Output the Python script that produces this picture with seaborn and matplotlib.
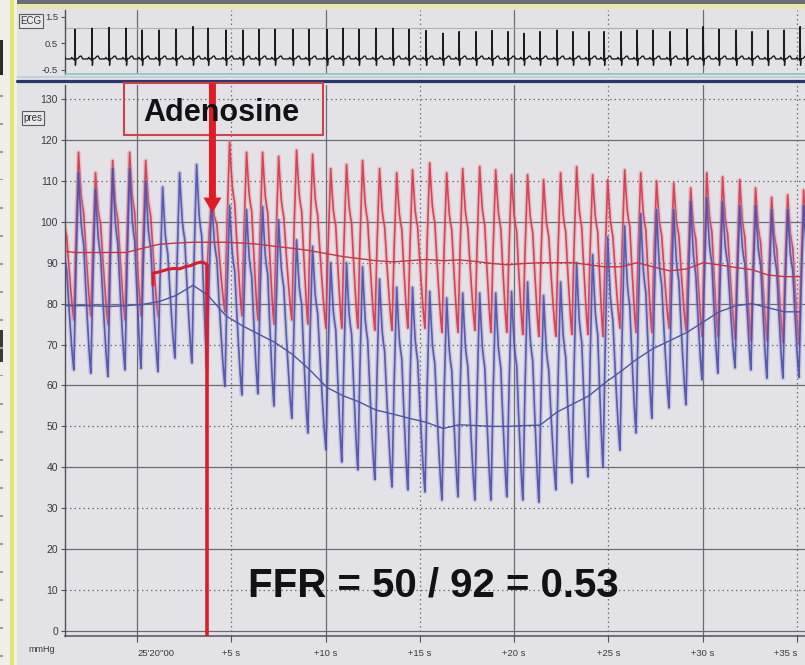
import numpy as np
import pandas as pd
import matplotlib
matplotlib.use("Agg")
import matplotlib.pyplot as plt
import seaborn as sns
from matplotlib.patches import Rectangle
from matplotlib.lines import Line2D

nan = np.nan

# ---------------------------------------------------------------- data
# R-wave times (s, relative to 25'20"00)
beat_t = [-4.19, -3.29, -2.39, -1.48, -0.58, 0.27, 1.17, 2.07, 2.97, 3.77,
          4.72, 5.62, 6.47, 7.32, 8.27, 9.12, 10.08, 10.92, 11.77, 12.67,
          13.58, 14.42, 15.33, 16.23, 17.08, 17.98, 18.83, 19.67, 20.52, 21.37,
          22.27, 23.12, 23.97, 24.77, 25.67, 26.52, 27.36, 28.27, 29.17, 30.02,
          30.86, 31.77, 32.61, 33.46, 34.31, 35.16]

# ECG R-peak level (mV)
ecg_r = [1.03, 1.03, 1.07, 1.10, 1.07, 1.00, 1.00, 1.03, 1.13, 1.07,
         1.00, 1.00, 1.03, 1.03, 1.03, 1.03, 1.03, 1.07, 1.03, 1.07,
         1.07, 1.03, 0.98, 0.88, 0.94, 0.94, 0.98, 0.94, 0.88, 0.94,
         1.00, 0.94, 0.94, 0.94, 0.94, 1.00, 1.00, 0.94, 1.03, 1.13,
         1.03, 1.00, 0.94, 0.98, 1.00, 1.13]

# Aortic pressure Pa per beat (mmHg); nan = damped during injection
pa_sys = [108, 117, 112, 115, 117, 115, nan, nan, nan, 106,
          119.5, 117, 117, 116, 117.5, 116.5, 113, 114, 115, 113,
          112, 112.7, 114.4, 112, 113, 113.5, 112.7, 111.5, 111.5, 110.3,
          112, 113.5, 111.5, 110.3, 112.7, 112, 110, 109.5, 108.3, 112,
          111, 110.3, 108.3, 106, 106.6, 107.8]
pa_dia = [76, 76, 77, 75, 76, 77, nan, nan, nan, 88,
          78, 77, 76, 75, 76, 75, 74, 74, 74, 73.5,
          73.5, 74, 74, 73, 73, 73.5, 73, 73, 72.5, 72,
          72, 72.5, 72.5, 72, 74, 73, 73, 74, 73.5, 72,
          72, 71.5, 71, 71, 70.5, 70]
pa_mean = [93, 92.5, 92.5, 92.5, 92.5, 93.5, 94.5, 94.8, 95, 95,
           95, 94.8, 94.5, 94, 93.5, 93, 92.2, 91.5, 91, 90.5,
           90.2, 90.5, 90.8, 90.5, 90.7, 90.3, 89.8, 89.5, 89.8, 90,
           90, 90, 89.5, 89, 89, 90, 89, 88, 88.5, 90,
           89.5, 88.8, 88.3, 87, 86.6, 86.6]

# Distal coronary pressure Pd per beat (mmHg)
pd_sys = [102, 112, 108, 113, 113, 110, 108.5, 112, 114, 106,
          104, 103, 103.7, 100.5, 95.6, 94, 90, 90, 89, 86,
          84, 84, 83, 81.4, 82.6, 82.6, 82.6, 83, 85.3, 82,
          85.3, 90, 92, 96.3, 99, 102, 103, 103, 105, 106,
          105, 104, 104, 103, 103, 104]
pd_dia = [64, 63.8, 63, 62.2, 63.8, 64.2, 63.4, 66.7, 65.5, 64,
          59.8, 57.7, 58, 55, 52, 48.4, 44.3, 41.3, 39.4, 37,
          35.2, 34.5, 34, 32, 32.8, 32, 32, 32.8, 32, 31.5,
          34.5, 36.2, 37.7, 40, 44.2, 48.4, 52, 54.5, 55.3, 61.4,
          63, 64.3, 63.8, 61.8, 61.8, 62]
pd_mean = [79.5, 79.5, 79.5, 79.3, 79.5, 79.8, 80.5, 82, 84.5, 82,
           77, 74.5, 72.5, 70.5, 67.5, 64, 59.5, 57.5, 56, 54,
           53, 52, 51, 49.5, 50.4, 50.2, 50, 50, 50.2, 50.3,
           53.5, 55.5, 57.5, 60.5, 63.5, 66.5, 69, 71, 73, 75.5,
           78, 79.5, 80, 79, 78, 78]

# damped Pa during the adenosine injection
pa_damped_t = [0.85, 0.85, 1.05, 1.35, 1.65, 1.95, 2.25, 2.55, 2.85, 3.15, 3.45, 3.71]
pa_damped_v = [84.5, 87.5, 87.6, 88.0, 88.4, 88.6, 88.5, 89.0, 89.3, 89.9, 90.2, 89.6]

adenosine_t = 3.71
arrow_t = 4.0
ffr_pd, ffr_pa, ffr_value = 50, 92, 0.53

x_ticks = [0, 5, 10, 15, 20, 25, 30, 35]
x_labels = ["25'20\"00", "+5 s", "+10 s", "+15 s", "+20 s", "+25 s", "+30 s", "+35 s"]
p_ticks = list(range(0, 131, 10))
ecg_ticks = [-0.5, 0.5, 1.5]


# ---------------------------------------------------------------- traces
RISE = [(-0.06, 0.0), (0.05, 0.5), (0.19, 1.0), (0.26, 0.86),
        (0.33, 0.74), (0.40, 0.68), (0.46, 0.64)]
DECAY = [0.15, 0.3, 0.5, 0.7, 0.85]


def pulse_frame(sys_v, dia_v):
    rows, seg, n = [], 0, len(beat_t)
    for i in range(n):
        if np.isnan(sys_v[i]):
            seg += 1
            continue
        t0 = beat_t[i]
        t1 = beat_t[i + 1] if i + 1 < n else t0 + (beat_t[i] - beat_t[i - 1])
        d0 = dia_v[i]
        d1 = dia_v[i + 1] if i + 1 < n and not np.isnan(dia_v[i + 1]) else d0
        amp = sys_v[i] - d0
        for ph, f in RISE:
            rows.append((t0 + ph, d0 + f * amp, seg))
        ta, va = t0 + RISE[-1][0], d0 + RISE[-1][1] * amp
        tb = t1 + RISE[0][0]
        for s in DECAY:
            rows.append((ta + s * (tb - ta), d1 + (va - d1) * (1 - s) ** 1.2, seg))
        if i + 1 >= n or np.isnan(sys_v[i + 1]):
            rows.append((tb, d1, seg))
    return pd.DataFrame(rows, columns=["t", "p", "seg"])


ECG_BASE = -0.09
ECG_SHAPE = [(-0.22, 0.0), (-0.17, 0.06), (-0.12, 0.0), (-0.04, 0.0), (-0.02, -0.06),
             (0.0, None), (0.025, -0.24), (0.05, 0.0), (0.16, 0.02), (0.26, 0.10),
             (0.33, 0.11), (0.41, 0.0)]


def ecg_frame():
    rows = []
    for t0, r in zip(beat_t, ecg_r):
        for ph, v in ECG_SHAPE:
            rows.append((t0 + ph, r if v is None else ECG_BASE + v))
    return pd.DataFrame(rows, columns=["t", "v"])


pa_df = pulse_frame(pa_sys, pa_dia)
pd_df = pulse_frame(pd_sys, pd_dia)
ecg_df = ecg_frame()
mean_df = pd.DataFrame({"t": beat_t, "pa": pa_mean, "pd": pd_mean})
damp_df = pd.DataFrame({"t": pa_damped_t, "p": pa_damped_v})

# ---------------------------------------------------------------- figure
sns.set_theme(style="white")
plt.rcParams["font.family"] = ["Liberation Sans", "DejaVu Sans"]

W, H = 805, 665
PANEL = "#e3e3e7"
fig = plt.figure(figsize=(W / 100, H / 100), dpi=100)
fig.patch.set_facecolor(PANEL)


def fig_rect(x0, y0, x1, y1, color, z=-5):
    fig.add_artist(Rectangle((x0 / W, 1 - y1 / H), (x1 - x0) / W, (y1 - y0) / H,
                             transform=fig.transFigure, facecolor=color,
                             edgecolor="none", zorder=z))


def fig_hline(x0, x1, y, color, lw, z=-4):
    fig.add_artist(Line2D([x0 / W, x1 / W], [1 - y / H, 1 - y / H],
                          transform=fig.transFigure, color=color, lw=lw, zorder=z))


# frame of the monitor screen
fig_rect(0, 0, W, 3.5, "#6c6c76")
fig_rect(17, 3.5, W, 8.5, "#e7e7ac")
fig_rect(0, 0, 10, H, "#efefe9")
fig_rect(10, 0, 14, H, "#e3e37a")
fig_rect(14, 0, 17, H, "#f3f3d6")
fig_rect(0, 40, 3, 75, "#2a2a2a")
fig_rect(0, 330, 3, 362, "#3a3a3a")
for yy in range(95, 660, 28):
    fig_rect(0, yy, 3, yy + 1.5, "#9a9a9a")
fig_hline(17, W, 77, "#b9cde2", 1.2)
fig_hline(17, W, 81, "#26386e", 2.3)

ax_ecg = fig.add_axes([65 / W, 1 - 74 / H, 740 / W, 64 / H])
ax = fig.add_axes([65 / W, 1 - 636 / H, 740 / W, 551 / H])

XLIM = (-3.818, 35.42)
PLIM = (-1.222, 133.43)
ELIM = (-0.658, 1.757)

GRID = "#6b6b72"
DOT = (0, (1.2, 2.4))

for a in (ax, ax_ecg):
    a.set_facecolor(PANEL)
    a.set_xlim(*XLIM)
    for s in x_ticks:
        if s % 10 == 0:
            a.axvline(s, color=GRID, lw=0.9, zorder=0.5)
        else:
            a.axvline(s, color=GRID, lw=0.9, ls=DOT, zorder=0.5)
    for side in ("top", "right"):
        a.spines[side].set_visible(False)
    a.spines["left"].set_color("#505058")
    a.spines["left"].set_linewidth(1.0)

for v in p_ticks:
    if v % 20 == 0:
        ax.axhline(v, color=GRID, lw=0.9, zorder=0.5)
    else:
        ax.axhline(v, color=GRID, lw=0.9, ls=DOT, zorder=0.5)
ax.set_ylim(*PLIM)
ax.spines["bottom"].set_color("#505058")
ax.spines["bottom"].set_linewidth(1.1)

# pressure traces: soft halo under a thin core line
kw = dict(x="t", y="p", units="seg", estimator=None, sort=False, legend=False, ax=ax)
sns.lineplot(data=pa_df, color="#ee8a96", lw=3.2, alpha=0.38, zorder=2, **kw)
sns.lineplot(data=pa_df, color="#d23448", lw=1.2, alpha=0.88, zorder=2.2, **kw)
sns.lineplot(data=pd_df, color="#9494d4", lw=3.2, alpha=0.38, zorder=2.4, **kw)
sns.lineplot(data=pd_df, color="#4848a6", lw=1.2, alpha=0.85, zorder=2.6, **kw)

# beat-averaged means
sns.lineplot(data=mean_df, x="t", y="pa", estimator=None, sort=False, ax=ax,
             color="#c23646", lw=1.0, zorder=3)
sns.lineplot(data=mean_df, x="t", y="pd", estimator=None, sort=False, ax=ax,
             color="#4a56a0", lw=1.0, zorder=3)

# damped Pa and the adenosine marker
sns.lineplot(data=damp_df, x="t", y="p", estimator=None, sort=False, ax=ax,
             color="#d81e2c", lw=2.2, zorder=4)
ax.vlines(adenosine_t, PLIM[0], pa_damped_v[-1], color="#d81e2c", lw=2.6, zorder=4)
ax.annotate("", xy=(arrow_t, 101.5), xytext=(arrow_t, 134.6),
            arrowprops=dict(arrowstyle="simple,head_length=1.1,head_width=1.3,tail_width=0.5",
                            mutation_scale=10, color="#e01b24", lw=0),
            annotation_clip=False, zorder=6)
ax.add_patch(Rectangle((-0.69, 121.3), 10.55, 12.6, fill=False, edgecolor="#d2404a",
                       lw=1.5, clip_on=False, zorder=5))
ax.text(0.32, 124.6, "Adenosine", fontsize=22, fontweight="bold", color="#121212",
        ha="left", va="baseline", zorder=7)
ax.text(5.89, 8.55, f"FFR = {ffr_pd} / {ffr_pa} = {ffr_value:.2f}", fontsize=29,
        fontweight="bold", color="#121212", ha="left", va="baseline", zorder=7)

# axes ticks
ax.set_yticks(p_ticks)
ax.set_yticklabels([str(v) for v in p_ticks])
ax.set_xticks(x_ticks)
ax.set_xticklabels(x_labels)
ax.tick_params(axis="y", which="major", left=True, length=3, width=0.8, color="#505058",
               pad=2, labelsize=7.5, labelcolor="#3a3a3a")
ax.tick_params(axis="x", which="major", bottom=True, length=4, width=0.8, color="#505058",
               pad=5, labelsize=6.8, labelcolor="#3a3a3a")
xt = ax.get_xticklabels()
xt[0].set_ha("left")
xt[-1].set_ha("right")
ax.set_xlabel("")
ax.set_ylabel("")

# ECG strip
sns.lineplot(data=ecg_df, x="t", y="v", estimator=None, sort=False, ax=ax_ecg,
             color="#1c1c1c", lw=1.0, zorder=3)
ax_ecg.axhline(1.08, color="#a9b3ab", lw=0.8, zorder=0.5)
ax_ecg.set_ylim(*ELIM)
ax_ecg.spines["bottom"].set_color("#8cc4b8")
ax_ecg.spines["bottom"].set_linewidth(1.2)
ax_ecg.set_yticks(ecg_ticks)
ax_ecg.set_yticklabels(["-0.5", "0.5", "1.5"])
ax_ecg.set_xticks([])
ax_ecg.tick_params(axis="y", left=True, length=3, width=0.8, color="#505058", pad=2,
                   labelsize=6.8, labelcolor="#3a3a3a")
ax_ecg.set_xlabel("")
ax_ecg.set_ylabel("")

# channel tags and unit
box = dict(boxstyle="square,pad=0.18", fc="#e9e9ec", ec="#5a5a60", lw=0.8)
fig.text(31 / W, 1 - 21 / H, "ECG", fontsize=7, color="#333", ha="center", va="center",
         bbox=box, zorder=8)
fig.text(33 / W, 1 - 118 / H, "pres", fontsize=7, color="#333", ha="center", va="center",
         bbox=box, zorder=8)
fig.text(42 / W, 1 - 650 / H, "mmHg", fontsize=6.5, color="#3a3a3a", ha="center",
         va="center")

fig.savefig("out.png", dpi=100, facecolor=fig.get_facecolor())
